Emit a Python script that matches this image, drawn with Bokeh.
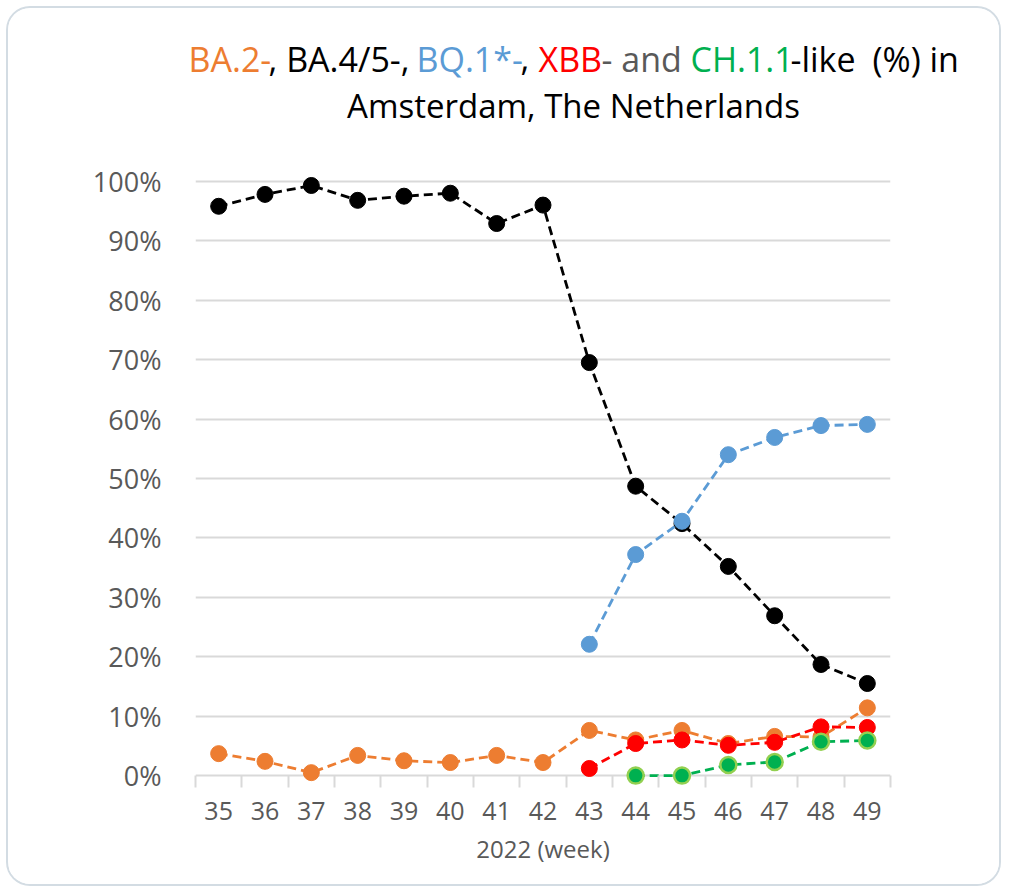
from bokeh.plotting import figure
from bokeh.models import FixedTicker, PrintfTickFormatter, Label, ColumnDataSource, Range1d
from bokeh.embed import file_html
from bokeh.resources import INLINE

weeks = [35, 36, 37, 38, 39, 40, 41, 42, 43, 44, 45, 46, 47, 48, 49]
ba2 = [3.7, 2.4, 0.5, 3.4, 2.5, 2.2, 3.4, 2.2, 7.6, 6.0, 7.6, 5.4, 6.6, 6.5, 11.4]
ba45 = [95.8, 97.8, 99.3, 96.8, 97.5, 98.0, 92.9, 96.0, 69.5, 48.7, 42.4, 35.2, 26.9, 18.7, 15.5]
bq1 = [None, None, None, None, None, None, None, None, 22.1, 37.2, 42.8, 54.0, 56.9, 58.9, 59.1]
xbb = [None, None, None, None, None, None, None, None, 1.2, 5.4, 6.0, 5.1, 5.6, 8.2, 8.1]
ch11 = [None, None, None, None, None, None, None, None, None, 0.0, 0.0, 1.8, 2.3, 5.7, 5.9]
y_ticks = [0, 10, 20, 30, 40, 50, 60, 70, 80, 90, 100]

FONT = "Open Sans"
GRAY = "#595959"
W = 995
TITLE_H = 150
CARD = "2px solid #d3dce3"

# ---------- title strip (multi-coloured title) ----------
t = figure(width=W, height=TITLE_H, output_backend="svg", toolbar_location=None,
           x_range=Range1d(8, 8 + W), y_range=Range1d(8 + TITLE_H, 8),
           x_axis_type=None, y_axis_type=None)
t.min_border_left = t.min_border_right = t.min_border_top = t.min_border_bottom = 0
t.outline_line_color = None
t.grid.grid_line_color = None
t.background_fill_color = "white"
t.border_fill_color = "white"
t.styles = {"border-top": CARD, "border-left": CARD, "border-right": CARD,
            "border-radius": "24px 24px 0 0", "overflow": "hidden",
            "margin": "6px 6px 0 6px"}

line1 = [
    ("BA.2-", 188, "#ed7d31"),
    (", BA.4/5-,", 268, "black"),
    ("BQ.1*-", 416, "#5b9bd5"),
    (",", 520, "black"),
    ("XBB", 538, "#ff0000"),
    ("- and", 601, GRAY),
    ("CH.1.1", 690, "#00b050"),
    ("-like", 790, "black"),
    ("(%) in", 872, "black"),
]
for txt, px, col in line1:
    t.add_layout(Label(x=px, y=58, text=txt, text_color=col, text_font=FONT,
                       text_font_size="34px", text_baseline="alphabetic", text_align="left"))
t.add_layout(Label(x=573, y=105, text="Amsterdam, The Netherlands", text_color="black",
                   text_font=FONT, text_font_size="33px", text_baseline="alphabetic",
                   text_align="center"))

# ---------- chart ----------
p = figure(width=W, height=880 - TITLE_H, output_backend="svg", toolbar_location=None,
           x_range=Range1d(34.5, 49.5), y_range=Range1d(-2, 103))
p.min_border_left = 187
p.min_border_right = 113
p.min_border_top = 157 - TITLE_H
p.min_border_bottom = 99
p.outline_line_color = None
p.background_fill_color = "white"
p.border_fill_color = "white"
p.styles = {"border-bottom": CARD, "border-left": CARD, "border-right": CARD,
            "border-radius": "0 0 24px 24px", "overflow": "hidden",
            "margin": "0 6px 6px 6px"}

p.xgrid.grid_line_color = None
p.ygrid.ticker = FixedTicker(ticks=y_ticks)
p.ygrid.grid_line_color = "#d9d9d9"
p.ygrid.grid_line_width = 2

p.yaxis.ticker = FixedTicker(ticks=y_ticks)
p.yaxis.formatter = PrintfTickFormatter(format="%d%%")
p.yaxis.axis_line_color = None
p.yaxis.major_tick_line_color = None
p.yaxis.minor_tick_line_color = None
p.yaxis.major_label_standoff = 28
p.yaxis.major_label_text_font = FONT
p.yaxis.major_label_text_font_size = "27px"
p.yaxis.major_label_text_color = GRAY

p.xaxis.ticker = FixedTicker(ticks=weeks, minor_ticks=[w - 0.5 for w in weeks] + [weeks[-1] + 0.5])
p.xaxis.axis_line_color = None
p.xaxis.major_tick_line_color = None
p.xaxis.minor_tick_in = 12
p.xaxis.minor_tick_out = 0
p.xaxis.minor_tick_line_color = "#d9d9d9"
p.xaxis.minor_tick_line_width = 2
p.xaxis.major_label_standoff = 8
p.xaxis.major_label_text_font = FONT
p.xaxis.major_label_text_font_size = "25px"
p.xaxis.major_label_text_color = GRAY
p.xaxis.axis_label = "2022 (week)"
p.xaxis.axis_label_text_font = FONT
p.xaxis.axis_label_text_font_size = "24px"
p.xaxis.axis_label_text_font_style = "normal"
p.xaxis.axis_label_text_color = GRAY
p.xaxis.axis_label_standoff = 9

series = [
    (ba2, "#ed7d31", "#ed7d31", 0),
    (ba45, "black", "black", 0),
    (bq1, "#5b9bd5", "#5b9bd5", 0),
    (xbb, "#ff0000", "#ff0000", 0),
    (ch11, "#00b050", "#92d050", 2.5),
]
for vals, col, edge, lw in series:
    xs = [w for w, v in zip(weeks, vals) if v is not None]
    ys = [v for v in vals if v is not None]
    src = ColumnDataSource(dict(x=xs, y=ys))
    p.line("x", "y", source=src, line_color=col, line_width=2.8, line_dash="9 5")
    p.scatter("x", "y", source=src, size=16, fill_color=col,
              line_color=edge, line_width=lw if lw else 1)

open("out.html", "w").write(file_html([t, p], INLINE))
